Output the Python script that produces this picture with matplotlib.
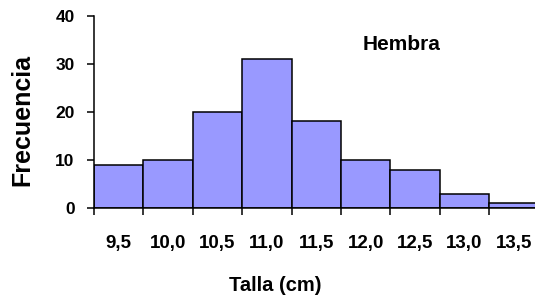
import matplotlib.pyplot as plt

clases = ['9,5', '10,0', '10,5', '11,0', '11,5', '12,0', '12,5', '13,0', '13,5']
frecuencia = [9, 10, 20, 31, 18, 10, 8, 3, 1]

plt.rcParams['font.family'] = ['Liberation Sans', 'DejaVu Sans']
plt.rcParams['font.weight'] = 'bold'

W, H = 535, 299
fig = plt.figure(figsize=(W / 100, H / 100), dpi=100)
ax = fig.add_axes([94 / W, 91 / H, 441 / W, 192.3 / H])

pos = list(range(len(clases)))
ax.bar([p + 0.5 for p in pos], frecuencia, width=1.0, color='#9999ff',
       edgecolor='black', linewidth=1.1)

ax.set_xlim(0, 441 / 49.4)
ax.set_ylim(0, 40)
ax.set_yticks([0, 10, 20, 30, 40])
ax.set_xticks([p + 0.5 for p in pos])
ax.set_xticklabels(clases, fontsize=13.5, fontweight='bold')
ax.set_xticks(range(len(clases)), minor=True)
ax.tick_params(axis='x', which='major', length=0, pad=19.5)
ax.tick_params(axis='x', which='minor', length=5, width=1.1, direction='out')
ax.tick_params(axis='y', length=5, width=1.1, labelsize=12.5, pad=9)
for t in ax.get_yticklabels():
    t.set_fontweight('bold')

for s in ['top', 'right']:
    ax.spines[s].set_visible(False)
ax.spines['left'].set_linewidth(1.1)
ax.spines['bottom'].set_linewidth(1.1)

fig.text(22 / W, 1 - 120 / H, 'Frecuencia', rotation=90, fontsize=18,
         fontweight='bold', ha='center', va='center')
fig.text(275 / W, 1 - 285.5 / H, 'Talla (cm)', fontsize=14.5,
         fontweight='bold', ha='center', va='center')
fig.text(401.5 / W, 1 - 44 / H, 'Hembra', fontsize=15,
         fontweight='bold', ha='center', va='center')

fig.savefig('out.png', dpi=100)
